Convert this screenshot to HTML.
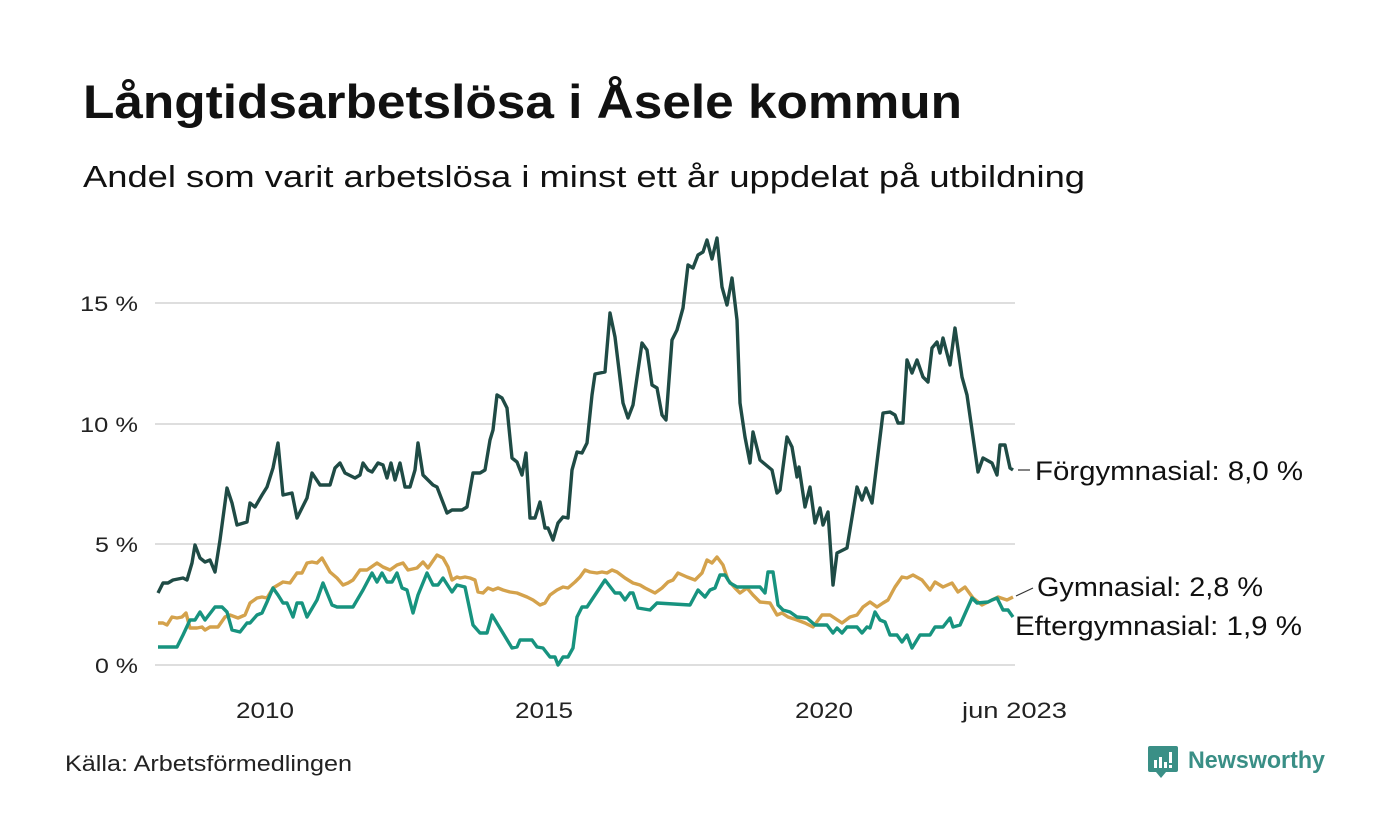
<!DOCTYPE html>
<html><head><meta charset="utf-8"><style>
html,body{margin:0;padding:0;background:#fff;}
svg{display:block;font-family:"Liberation Sans","DejaVu Sans",sans-serif;}
</style></head><body>
<svg width="1400" height="840" viewBox="0 0 1400 840" xmlns="http://www.w3.org/2000/svg">
<rect width="1400" height="840" fill="#fff"/>
<text x="83" y="118" font-size="47" font-weight="bold" fill="#111" textLength="879" lengthAdjust="spacingAndGlyphs">Långtidsarbetslösa i Åsele kommun</text>
<text x="83" y="187" font-size="31" fill="#111" textLength="1002" lengthAdjust="spacingAndGlyphs">Andel som varit arbetslösa i minst ett år uppdelat på utbildning</text>
<g stroke="#dedede" stroke-width="2">
<line x1="155" y1="303" x2="1015" y2="303"/>
<line x1="155" y1="424" x2="1015" y2="424"/>
<line x1="155" y1="544" x2="1015" y2="544"/>
<line x1="155" y1="665" x2="1015" y2="665"/>
</g>
<g font-size="21" fill="#222">
<text x="80" y="311" textLength="58" lengthAdjust="spacingAndGlyphs">15 %</text>
<text x="80" y="432" textLength="58" lengthAdjust="spacingAndGlyphs">10 %</text>
<text x="95" y="552" textLength="43" lengthAdjust="spacingAndGlyphs">5 %</text>
<text x="95" y="673" textLength="43" lengthAdjust="spacingAndGlyphs">0 %</text>
</g>
<g font-size="22" fill="#222">
<text x="236" y="718" textLength="58" lengthAdjust="spacingAndGlyphs">2010</text>
<text x="515" y="718" textLength="58" lengthAdjust="spacingAndGlyphs">2015</text>
<text x="795" y="718" textLength="58" lengthAdjust="spacingAndGlyphs">2020</text>
<text x="962" y="718" textLength="105" lengthAdjust="spacingAndGlyphs">jun 2023</text>
</g>
<g fill="none" stroke-width="3.4" stroke-linejoin="round">
<polyline stroke="#d4a24c" points="158,623 163,623 167,625 172,617 177,618 182,617 186,613 190,628 197,628 202,627 205,630 210,627 218,627 225,617 230,615 238,618 245,615 250,603 257,598 262,597 267,598 273,588 278,585 283,582 290,583 297,573 302,573 307,563 312,562 317,563 322,558 330,572 337,578 343,585 348,583 353,580 360,570 367,570 377,563 383,567 390,570 397,565 403,563 408,570 417,568 423,562 428,568 437,555 443,558 448,567 452,580 457,577 460,578 465,577 470,578 475,580 478,592 483,593 488,588 493,590 498,588 503,590 510,592 517,593 527,597 533,600 540,605 545,603 550,595 557,590 563,587 568,588 575,582 580,577 585,570 590,572 597,573 602,572 607,573 612,570 617,572 625,578 633,583 640,585 645,588 655,593 662,588 668,582 673,580 678,573 687,577 695,580 702,573 707,560 712,563 717,557 723,565 728,580 735,588 740,593 747,588 753,595 760,602 770,603 777,615 782,613 788,617 797,620 805,623 813,627 822,615 830,615 842,623 850,617 857,615 863,607 870,602 877,607 883,603 888,600 895,587 902,577 907,578 913,575 922,580 930,590 935,582 943,587 952,583 958,592 965,587 973,598 982,605 992,600 998,597 1007,600 1013,597"/>
<polyline stroke="#17937f" points="158,647 177,647 183,635 190,620 195,620 200,612 205,620 215,607 222,607 227,612 232,630 240,632 247,623 250,623 257,615 262,613 267,602 273,588 278,595 283,603 287,603 293,617 297,603 302,603 307,617 317,600 323,583 332,605 337,607 353,607 363,590 372,573 377,582 382,573 387,582 392,582 397,573 402,588 407,590 413,613 418,595 427,573 433,585 438,585 443,578 452,592 457,585 465,587 473,625 480,633 487,633 492,615 512,648 517,647 520,640 532,640 537,647 543,648 550,657 555,657 558,665 563,657 568,657 573,648 577,617 582,607 587,607 593,598 605,580 615,593 620,593 625,600 630,593 633,593 638,608 650,610 657,603 690,605 698,590 705,597 710,590 715,588 720,575 725,575 730,583 737,587 760,587 765,593 768,572 773,572 778,605 783,610 790,612 797,617 807,618 815,625 827,625 833,633 837,628 842,633 847,627 857,627 862,633 867,627 870,628 875,612 880,620 885,622 890,635 897,635 902,642 907,635 912,648 920,635 930,635 935,627 943,627 950,618 953,627 960,625 972,598 977,603 988,602 992,600 997,598 1003,610 1008,610 1013,617"/>
<polyline stroke="#1f4b45" points="158,593 163,583 168,583 173,580 183,578 187,580 192,563 195,545 200,558 205,562 210,560 215,572 220,540 227,488 232,503 237,525 247,522 250,503 255,507 262,495 267,487 273,468 278,443 283,495 292,493 297,518 307,498 312,473 320,485 330,485 335,468 340,463 345,473 355,478 360,475 363,463 368,470 372,472 378,463 383,465 387,478 391,463 395,480 400,463 405,487 410,487 415,470 418,443 423,475 433,485 437,487 447,513 452,510 462,510 467,507 473,473 480,473 485,470 490,440 493,430 497,395 502,398 507,408 512,458 517,462 522,475 526,453 530,518 535,518 540,502 545,528 548,528 553,540 558,523 563,517 568,518 572,470 577,452 582,453 587,443 592,395 595,374 605,372 610,313 615,337 623,403 628,418 633,405 642,343 647,350 652,385 657,388 662,415 666,420 672,340 677,330 683,308 688,265 693,268 698,255 703,252 707,240 712,259 717,238 722,287 727,305 732,278 737,320 740,403 745,437 750,463 753,432 760,460 772,470 777,493 780,490 787,437 792,447 797,477 799,467 805,507 810,487 815,523 820,508 823,525 828,512 833,585 837,553 847,548 857,487 862,500 866,488 872,503 883,413 890,412 895,415 898,423 903,423 907,360 912,373 917,360 923,377 928,382 932,348 937,342 940,353 943,338 950,365 955,328 962,377 967,395 978,472 983,458 992,463 997,475 1000,445 1005,445 1010,468 1013,470"/>
</g>
<g stroke="#333" stroke-width="1.2">
<line x1="1018" y1="470" x2="1030" y2="470"/>
<line x1="1016" y1="596" x2="1033" y2="588"/>
</g>
<g font-size="27" fill="#111">
<text x="1035" y="480" textLength="268" lengthAdjust="spacingAndGlyphs">Förgymnasial: 8,0 %</text>
<text x="1037" y="596" textLength="226" lengthAdjust="spacingAndGlyphs">Gymnasial: 2,8 %</text>
<text x="1015" y="635" textLength="287" lengthAdjust="spacingAndGlyphs">Eftergymnasial: 1,9 %</text>
</g>
<text x="65" y="771" font-size="22" fill="#222" textLength="287" lengthAdjust="spacingAndGlyphs">Källa: Arbetsförmedlingen</text>
<g>
<path d="M1150,746 h26 a2,2 0 0 1 2,2 v22 a2,2 0 0 1 -2,2 h-10 l-5,6 l-5,-6 h-6 a2,2 0 0 1 -2,-2 v-22 a2,2 0 0 1 2,-2z" fill="#3a8f86"/>
<rect x="1154" y="760" width="3" height="8" fill="#fff"/>
<rect x="1159" y="757" width="3" height="11" fill="#fff"/>
<rect x="1164" y="762" width="3" height="6" fill="#fff"/>
<rect x="1169" y="752" width="3" height="11" fill="#fff"/>
<rect x="1169" y="765" width="3" height="3" fill="#fff"/>
<text x="1188" y="768" font-size="24" font-weight="bold" fill="#3a8f86" textLength="137" lengthAdjust="spacingAndGlyphs">Newsworthy</text>
</g>
</svg>
</body></html>
